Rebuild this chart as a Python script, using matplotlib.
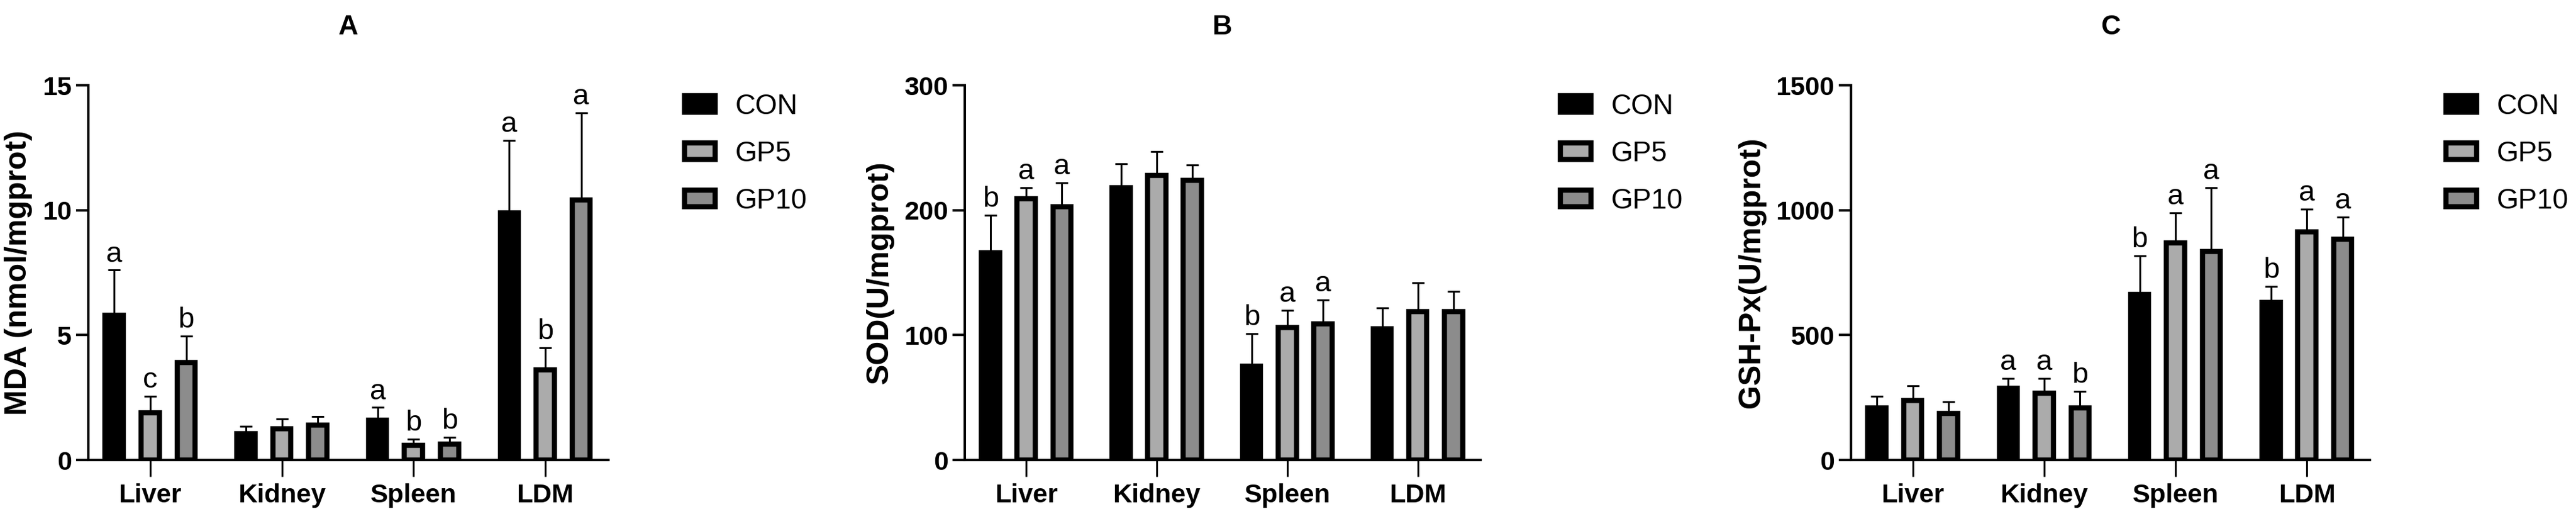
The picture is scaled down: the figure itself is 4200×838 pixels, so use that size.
import numpy as np
import matplotlib
matplotlib.use('Agg')
import matplotlib.pyplot as plt

# Organs on the x axis and the three treatment groups
organs = ['Liver', 'Kidney', 'Spleen', 'LDM']
groups = ['CON', 'GP5', 'GP10']
group_colors = ['#000000', '#ababab', '#8c8c8c']

# Panel A: MDA (rows = CON, GP5, GP10)
mda_mean = [[5.8, 1.05, 1.6, 9.9],
            [1.9, 1.25, 0.6, 3.6],
            [3.9, 1.4, 0.65, 10.4]]
mda_err = [[1.8, 0.3, 0.5, 2.9],
           [0.65, 0.4, 0.23, 0.9],
           [1.05, 0.35, 0.25, 3.5]]
mda_letters = [['a', '', 'a', 'a'],
               ['c', '', 'b', 'b'],
               ['b', '', 'b', 'a']]

# Panel B: SOD
sod_mean = [[166, 218, 75, 105],
            [209, 228, 106, 119],
            [203, 224, 109, 119]]
sod_err = [[30, 19, 26, 17],
           [9, 19, 14, 23],
           [19, 12, 19, 16]]
sod_letters = [['b', '', 'b', ''],
               ['a', '', 'a', ''],
               ['a', '', 'a', '']]

# Panel C: GSH-Px
gsh_mean = [[209, 288, 663, 631],
            [237, 267, 870, 914],
            [187, 209, 835, 884]]
gsh_err = [[46, 39, 155, 64],
           [61, 60, 119, 90],
           [45, 66, 255, 89]]
gsh_letters = [['', 'a', 'b', 'b'],
               ['', 'a', 'a', 'a'],
               ['', 'b', 'a', 'a']]

W, H = 4200, 838
plt.rcParams['font.family'] = ['Liberation Sans', 'DejaVu Sans']

fig = plt.figure(figsize=(W / 100, H / 100), dpi=100)

# title, ylabel, data, yticks, axes left/right px, legend left px
panels = [
    ('A', 'MDA (nmol/mgprot)', mda_mean, mda_err, mda_letters, [0, 5, 10, 15], 144, 992, 1112),
    ('B', 'SOD(U/mgprot)', sod_mean, sod_err, sod_letters, [0, 100, 200, 300], 1573, 2414, 2540),
    ('C', 'GSH-Px(U/mgprot)', gsh_mean, gsh_err, gsh_letters, [0, 500, 1000, 1500], 3018, 3864, 3984),
]

x = np.arange(len(organs))
offsets = [-0.273, 0.0, 0.273]
bar_w = 0.138

for title, ylab, means, errs, letters, yt, left, right, leg_x in panels:
    ax = fig.add_axes([left / W, 88 / H, (right - left) / W, 611 / H])

    for i, g in enumerate(groups):
        xpos = x + offsets[i]
        m = np.array(means[i], dtype=float)
        e = np.array(errs[i], dtype=float)
        ax.bar(xpos, m, width=bar_w, color=group_colors[i], edgecolor='black',
               linewidth=6.1, zorder=2, label=g)
        ax.errorbar(xpos, m, yerr=[np.zeros_like(e), e], fmt='none', ecolor='black',
                    elinewidth=2.2, capsize=7.5, capthick=2.2, zorder=1)
        for xp, top, txt in zip(xpos, m + e, letters[i]):
            if txt:
                ax.annotate(txt, (xp, top), xytext=(0, 10), textcoords='offset points',
                            ha='center', va='baseline', fontsize=34)

    ax.set_xlim(-0.47, 3.48)
    ax.set_ylim(yt[0], yt[-1])
    ax.set_yticks(yt)
    ax.set_xticks(x)
    ax.set_xticklabels(organs, fontsize=31, fontweight='bold')
    ax.set_yticklabels([str(v) for v in yt], fontsize=31, fontweight='bold')
    ax.tick_params(axis='x', length=19.4, width=2.2, pad=8)
    ax.tick_params(axis='y', length=14.4, width=2.9, pad=5)

    for s in ['top', 'right']:
        ax.spines[s].set_visible(False)
    for s in ['left', 'bottom']:
        ax.spines[s].set_linewidth(2.9)

    ax.set_title(title, fontsize=32, fontweight='bold', pad=60)
    ax.set_ylabel(ylab, fontsize=36, fontweight='bold', labelpad=12)

    ax.legend(loc='upper left', bbox_to_anchor=((leg_x + 4) / W, 1 - 152 / H),
              bbox_transform=fig.transFigure, frameon=False, fontsize=33,
              handlelength=1.1, handleheight=0.53, handletextpad=0.7,
              labelspacing=0.72, borderpad=0, borderaxespad=0)

fig.savefig('out.png', dpi=100)
